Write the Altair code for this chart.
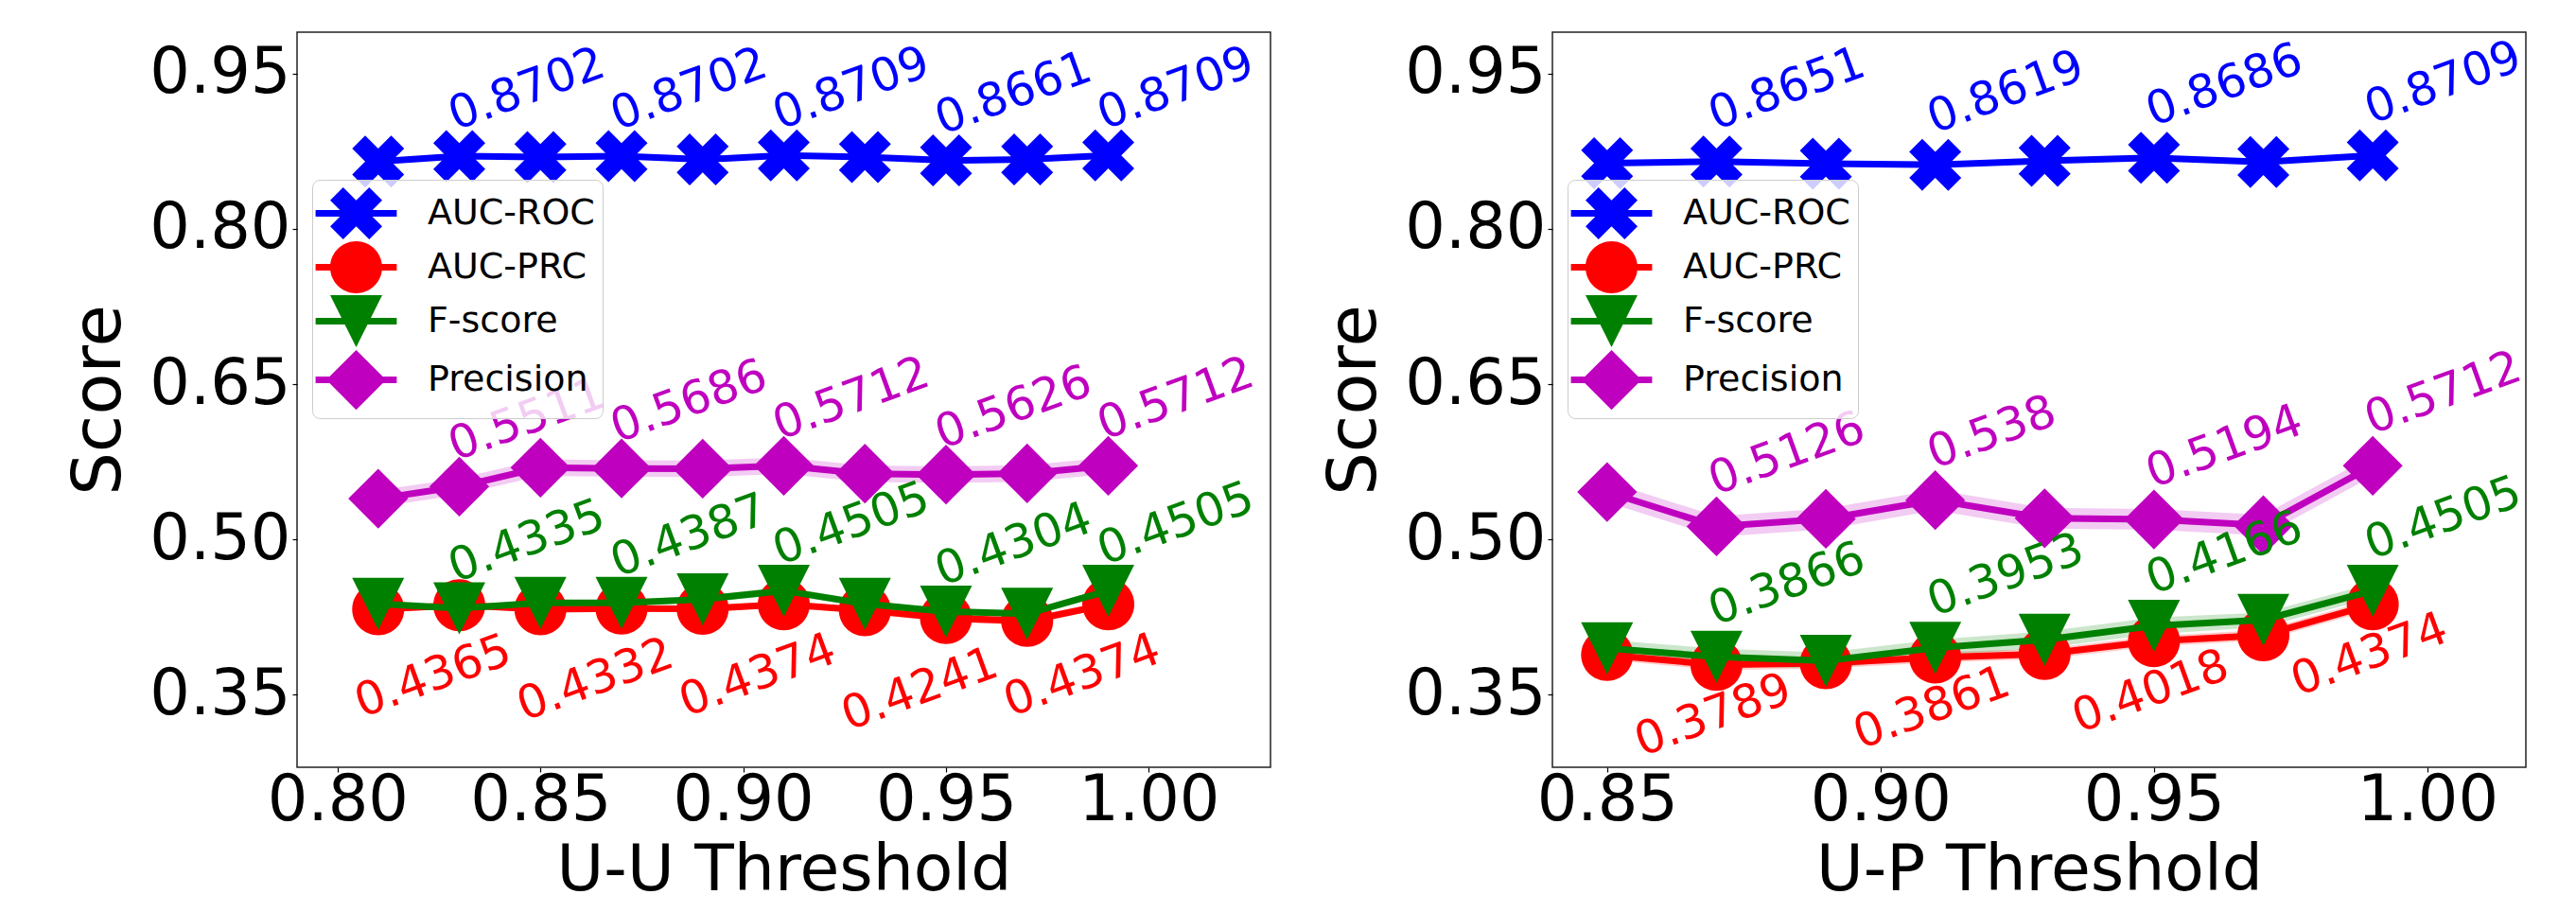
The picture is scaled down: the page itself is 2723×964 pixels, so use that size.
import altair as alt
import pandas as pd

FONT = "DejaVu Sans"
SERIES = ["AUC-ROC", "AUC-PRC", "F-score", "Precision"]
COLORS = ["#0000ff", "#ff0000", "#008000", "#bf00bf"]

# marker shapes (unit box paths): filled X, circle, triangle-down, diamond
X_SHAPE = "M0.5,-1L1,-0.5L0.5,0L1,0.5L0.5,1L0,0.5L-0.5,1L-1,0.5L-0.5,0L-1,-0.5L-0.5,-1L0,-0.5Z"
CIRCLE = "M-1,0A1,1 0 1,1 1,0A1,1 0 1,1 -1,0Z"
TRI_DOWN = "M0,1L-1,-1L1,-1Z"
DIAMOND = "M0,-1.15L1.15,0L0,1.15L-1.15,0Z"
SHAPES = [X_SHAPE, CIRCLE, TRI_DOWN, DIAMOND]
# legend handle = marker with a line segment through it
LEGEND_BAR = "M-1.56,-0.127L1.56,-0.127L1.56,0.127L-1.56,0.127Z"
LEGEND_SHAPES = [s + LEGEND_BAR for s in SHAPES]
MARKER_SIZE = 3025

Y_DOMAIN = [0.28, 0.99]
Y_TICKS = [0.35, 0.50, 0.65, 0.80, 0.95]

# ---- U-U threshold panel ----
UU_X = [0.81, 0.83, 0.85, 0.87, 0.89, 0.91, 0.93, 0.95, 0.97, 0.99]
UU_ROC = [0.8651, 0.8702, 0.8694, 0.8702, 0.8670, 0.8709, 0.8694, 0.8661, 0.8670, 0.8709]
UU_PRC = [0.4327, 0.4365, 0.4327, 0.4332, 0.4331, 0.4374, 0.4316, 0.4241, 0.4213, 0.4374]
UU_F = [0.4379, 0.4335, 0.4388, 0.4387, 0.4423, 0.4505, 0.4379, 0.4304, 0.4282, 0.4505]
UU_P = [0.5394, 0.5511, 0.5694, 0.5686, 0.5683, 0.5712, 0.5636, 0.5626, 0.5638, 0.5712]
UU_ROC_SD = [0.002, 0.002, 0.002, 0.002, 0.002, 0.002, 0.002, 0.002, 0.002, 0.002]
UU_PRC_SD = [0.003, 0.003, 0.003, 0.003, 0.003, 0.003, 0.003, 0.004, 0.004, 0.003]
UU_F_SD = [0.003, 0.003, 0.003, 0.003, 0.003, 0.004, 0.003, 0.003, 0.003, 0.004]
UU_P_SD = [0.008, 0.008, 0.008, 0.008, 0.008, 0.008, 0.008, 0.008, 0.008, 0.008]
UU_LABEL_IDX = [1, 3, 5, 7, 9]
UU_TICKS = [0.80, 0.85, 0.90, 0.95, 1.00]
UU_DOMAIN = [0.79, 1.03]

# ---- U-P threshold panel ----
UP_X = [0.85, 0.87, 0.89, 0.91, 0.93, 0.95, 0.97, 0.99]
UP_ROC = [0.8635, 0.8651, 0.8629, 0.8619, 0.8657, 0.8686, 0.8645, 0.8709]
UP_PRC = [0.3886, 0.3789, 0.3805, 0.3861, 0.3895, 0.4018, 0.4075, 0.4374]
UP_F = [0.3950, 0.3866, 0.3828, 0.3953, 0.4032, 0.4166, 0.4224, 0.4505]
UP_P = [0.5459, 0.5126, 0.5199, 0.538, 0.5205, 0.5194, 0.5138, 0.5712]
UP_ROC_SD = [0.002, 0.002, 0.002, 0.002, 0.002, 0.002, 0.002, 0.002]
UP_PRC_SD = [0.005, 0.005, 0.005, 0.005, 0.005, 0.005, 0.005, 0.005]
UP_F_SD = [0.008, 0.008, 0.008, 0.008, 0.008, 0.008, 0.007, 0.007]
UP_P_SD = [0.010, 0.010, 0.010, 0.010, 0.010, 0.010, 0.010, 0.010]
UP_LABEL_IDX = [1, 3, 5, 7]
UP_TICKS = [0.85, 0.90, 0.95, 1.00]
UP_DOMAIN = [0.84, 1.018]


def panel_frame(xs, vals_list, sd_list, label_idx):
    rows = []
    for s, vals, sds in zip(SERIES, vals_list, sd_list):
        for i, (x, v, sd) in enumerate(zip(xs, vals, sds)):
            rows.append({"x": x, "series": s, "value": v, "sd": sd,
                         "label": str(v) if i in label_idx else None})
    return pd.DataFrame(rows)


def make_legend():
    return alt.Legend(
        title=None, orient="none", legendX=16, legendY=156, padding=8,
        labelFont=FONT, labelFontSize=38, labelColor="black", labelLimit=500,
        rowPadding=2, symbolOffset=11, labelOffset=48,
        symbolSize=MARKER_SIZE, symbolStrokeWidth=0, symbolOpacity=1,
        fillColor="rgba(255,255,255,0.8)", strokeColor="#cccccc", cornerRadius=8,
    )


def panel(df, xdom, xticks, xtitle, up_off, low_off):
    leg = make_legend()
    fscale = alt.Scale(domain=SERIES, range=COLORS)
    shscale = alt.Scale(domain=SERIES, range=LEGEND_SHAPES)
    yscale = alt.Scale(domain=Y_DOMAIN, nice=False, zero=False)
    yaxis = alt.Axis(values=Y_TICKS, format=".2f", title="Score")
    xenc = alt.X("x:Q", scale=alt.Scale(domain=xdom, nice=False, zero=False),
                 axis=alt.Axis(values=xticks, format=".2f", title=xtitle))
    yenc = alt.Y("value:Q", scale=yscale, axis=yaxis)
    base = alt.Chart(df)
    txt = dict(font=FONT, fontSize=49, angle=340, align="left", baseline="alphabetic")

    bands, series_layers, texts = [], [], []
    for s, c, shp in zip(SERIES, COLORS, SHAPES):
        sub = base.transform_filter(alt.datum.series == s)
        bands.append(sub.transform_calculate(
            lo="datum.value - datum.sd", hi="datum.value + datum.sd"
        ).mark_area(color=c, opacity=0.2).encode(
            x=xenc, y=alt.Y("lo:Q", scale=yscale, axis=yaxis), y2="hi:Q"))
        series_layers.append(sub.mark_line(color=c, strokeWidth=7).encode(x=xenc, y=yenc))
        series_layers.append(sub.mark_point(shape=shp, filled=True, color=c, opacity=1,
                                            size=MARKER_SIZE, strokeWidth=0).encode(
            x=xenc, y=yenc))
        off = low_off if s == "AUC-PRC" else up_off
        texts.append(sub.transform_filter("isValid(datum.label)").mark_text(
            color=c, xOffset=off[0], yOffset=off[1], **txt).encode(
            x=xenc, y=yenc, text="label:N"))

    # legend-only layer (no rows drawn; entries come from the explicit scale domain)
    legend_layer = base.transform_filter("false").mark_point(
        filled=True, opacity=1, size=MARKER_SIZE).encode(
        x=xenc, y=yenc,
        fill=alt.Fill("series:N", scale=fscale, legend=leg),
        shape=alt.Shape("series:N", scale=shscale, legend=leg))

    return alt.layer(*(bands + series_layers + texts + [legend_layer])).properties(
        width=1029, height=777)


uu = panel(panel_frame(UU_X, [UU_ROC, UU_PRC, UU_F, UU_P],
                       [UU_ROC_SD, UU_PRC_SD, UU_F_SD, UU_P_SD], UU_LABEL_IDX),
           UU_DOMAIN, UU_TICKS, "U-U Threshold", (-4, -27), (-103, 119))
up = panel(panel_frame(UP_X, [UP_ROC, UP_PRC, UP_F, UP_P],
                       [UP_ROC_SD, UP_PRC_SD, UP_F_SD, UP_P_SD], UP_LABEL_IDX),
           UP_DOMAIN, UP_TICKS, "U-P Threshold", (-1, -33), (-79, 97))

chart = alt.hconcat(uu, up, spacing=51).resolve_scale(
    fill="independent", shape="independent"
).properties(
    padding={"left": 60, "top": 25, "right": 0, "bottom": 0}
).configure_axis(
    labelFont=FONT, labelFontSize=67, labelColor="black",
    titleFont=FONT, titleFontSize=72, titleFontWeight="normal", titleColor="black",
    grid=False, domain=False, tickSize=5, tickColor="black", tickWidth=1.2,
    labelPadding=2, labelFlush=False,
).configure_axisX(
    labelPadding=-3, titlePadding=7, titleFontSize=68
).configure_axisY(
    titlePadding=16
).configure_view(
    stroke="#222222", strokeWidth=1.5
)

chart.save("out.html", embed_options={"renderer": "svg", "actions": False})
